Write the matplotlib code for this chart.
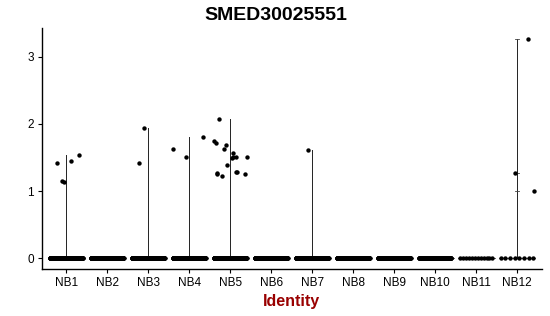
import numpy as np
import matplotlib
matplotlib.use("Agg")
import matplotlib.pyplot as plt

plt.rcParams['font.family'] = ['Liberation Sans', 'DejaVu Sans']

groups = ['NB1', 'NB2', 'NB3', 'NB4', 'NB5', 'NB6', 'NB7', 'NB8', 'NB9', 'NB10', 'NB11', 'NB12']
# number of cells with zero expression per group
zero_counts = [220, 220, 220, 220, 220, 200, 200, 200, 160, 90, 12, 8]
# non-zero expression values (and their jitter offsets) per group
nonzero_vals = {
    'NB1': [1.41, 1.145, 1.13, 1.44, 1.54],
    'NB3': [1.42, 1.94],
    'NB4': [1.62, 1.50, 1.80],
    'NB5': [2.07, 1.74, 1.72, 1.69, 1.63, 1.56, 1.49, 1.51, 1.50, 1.51,
            1.39, 1.28, 1.28, 1.27, 1.25, 1.22, 1.26],
    'NB7': [1.61],
    'NB12': [3.26, 1.27, 0.995],
}
nonzero_jit = {
    'NB1': [-0.22, -0.105, -0.066, 0.105, 0.31],
    'NB3': [-0.23, -0.10],
    'NB4': [-0.39, -0.09, 0.33],
    'NB5': [-0.28, -0.39, -0.35, -0.10, -0.15, 0.07, 0.05, 0.08, 0.13, 0.40,
            -0.07, 0.14, 0.17, -0.33, -0.32, -0.19, 0.35],
    'NB7': [-0.09],
    'NB12': [0.26, -0.06, 0.41],
}

fig = plt.figure(figsize=(5.5, 3.16), dpi=100)
ax = fig.add_axes([0.0758, 0.148, 0.909, 0.763])

ymax = max(max(v) for v in nonzero_vals.values())
for i, g in enumerate(groups):
    xc = i + 1
    # collapsed violin: horizontal at zero, vertical line up to max
    ax.plot([xc - 0.45, xc + 0.45], [0, 0], color='black', lw=0.5, zorder=1)
    if g in nonzero_vals:
        top = max(nonzero_vals[g])
        ax.plot([xc, xc], [0, top], color='#222222', lw=0.7, zorder=1)
    if g == 'NB12':
        for v in nonzero_vals[g]:
            ax.plot([xc - 0.05, xc + 0.05], [v, v], color='#444444', lw=0.6, zorder=1)
    n = zero_counts[i]
    xs = xc + np.linspace(-0.4, 0.4, n)
    ax.scatter(xs, np.zeros(n), s=10, color='black', linewidths=0, zorder=2)
    if g in nonzero_vals:
        ax.scatter(xc + np.array(nonzero_jit[g]), nonzero_vals[g], s=10,
                   color='black', linewidths=0, zorder=2)

ax.set_xlim(0.4, len(groups) + 0.6)
ax.set_ylim(-0.05 * ymax, ymax * 1.05)
ax.set_xticks(range(1, len(groups) + 1))
ax.set_xticklabels(groups, fontsize=8.5)
ax.set_yticks([0, 1, 2, 3])
ax.tick_params(axis='both', labelsize=8.5, length=3, width=0.8, color='black', pad=2.5)
for s in ['top', 'right']:
    ax.spines[s].set_visible(False)
for s in ['left', 'bottom']:
    ax.spines[s].set_linewidth(1.0)
ax.set_xlabel('Identity', fontsize=11.5, fontweight='bold', color='#990000', labelpad=4)
fig.text(276 / 550, 1 - 15 / 316, 'SMED30025551', fontsize=14, fontweight='bold',
         ha='center', va='center')

fig.savefig('out.png', dpi=100)
